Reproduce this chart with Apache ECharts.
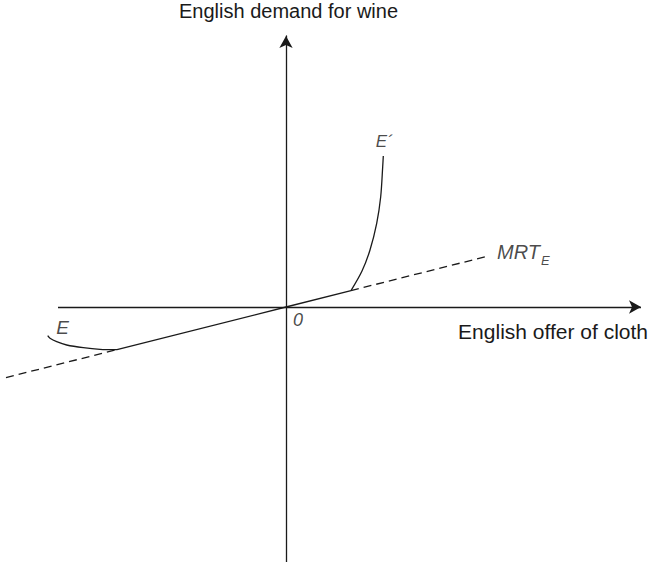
<!DOCTYPE html>
<html>
<head>
<meta charset="utf-8">
<script src="https://cdn.jsdelivr.net/npm/echarts@6/dist/echarts.min.js"></script>
<style>
  html, body { margin: 0; padding: 0; background: #ffffff; }
  #chart { width: 649px; height: 562px; }
</style>
</head>
<body>
<div id="chart"></div>
<script>
// MRT_E ray through the origin: dashed outer stretches, solid middle stretch
const mrtDashLeft = [[-28.0, -7.06], [-16.9, -4.26]];
const mrtSolid = [[-16.9, -4.26], [0, 0], [6.5, 1.64]];
const mrtDashRight = [[6.5, 1.64], [20.2, 5.09]];

// Offer curve branch E' (first quadrant) and branch E (third quadrant)
const curveEPrime = [[6.5, 1.64], [7.6, 3.6], [8.4, 5.7], [9.07, 8.37], [9.47, 11.03], [9.67, 14.03], [9.73, 15.1]];
const curveE = [[-16.9, -4.26], [-18.6, -4.23], [-20.27, -4.07], [-21.93, -3.8], [-22.93, -3.47], [-23.6, -3.13], [-23.83, -2.87]];

// Plot extents and the drawn horizontal axis (starts right of the plot edge)
const xRange = [-28.6, 35.5];
const yRange = [-25.5, 27.1];
const xAxisSpan = [-22.8, 35.5];

// Axis titles
const xTitle = 'English offer of cloth';
const yTitle = 'English demand for wine';

const FONT = '"Liberation Sans", Arial, Helvetica, sans-serif';
const INK = '#1a1a1a';

const chart = echarts.init(document.getElementById('chart'), null, { renderer: 'svg' });

const lineBase = {
  type: 'line',
  symbol: 'none',
  clip: false,
  silent: true,
  animation: false,
  lineStyle: { color: INK, width: 1.3 }
};

// Anchor points for the point labels, taken from the ends of the drawn curves
const last = (arr) => arr[arr.length - 1];
const labelPoints = [
  { value: last(curveE), label: { formatter: 'E', fontSize: 19, offset: [15, -8] } },
  { value: last(curveEPrime), label: { formatter: 'E\u00B4', fontSize: 17, offset: [1, -15] } },
  { value: last(mrtDashRight), label: { formatter: '{a|MRT}{b|E}', position: 'right', distance: 9, offset: [0, -4] } },
  { value: mrtSolid[1], label: { formatter: '0', fontSize: 18, offset: [12, 13] } }
];

chart.setOption({
  animation: false,
  backgroundColor: '#ffffff',
  grid: { left: 0, right: 8, top: 36, bottom: 0, containLabel: false },
  xAxis: {
    type: 'value',
    min: xRange[0], max: xRange[1],
    axisLine: { show: false },
    axisTick: { show: false },
    axisLabel: { show: false },
    splitLine: { show: false }
  },
  yAxis: {
    type: 'value',
    min: yRange[0], max: yRange[1],
    axisLine: {
      show: true, onZero: true,
      symbol: ['none', 'arrow'], symbolSize: [10, 12],
      lineStyle: { color: INK, width: 1.3 }
    },
    axisTick: { show: false },
    axisLabel: { show: false },
    splitLine: { show: false }
  },
  graphic: [
    {
      type: 'text', left: 179, top: 1,
      style: { text: yTitle, font: '20px ' + FONT, fill: INK }
    },
    {
      type: 'text', right: 1, top: 321,
      style: { text: xTitle, font: '21px ' + FONT, fill: INK }
    }
  ],
  series: [
    Object.assign({}, lineBase, {
      data: mrtDashLeft,
      lineStyle: { color: INK, width: 1.3, type: [8, 5] },
      // horizontal axis with its arrow head
      markLine: {
        silent: true,
        animation: false,
        symbol: ['none', 'arrow'],
        symbolSize: [10, 12],
        label: { show: false },
        lineStyle: { color: INK, width: 1.3, type: 'solid' },
        data: [[{ coord: [xAxisSpan[0], 0] }, { coord: [xAxisSpan[1], 0] }]]
      }
    }),
    Object.assign({}, lineBase, { data: mrtSolid }),
    Object.assign({}, lineBase, { data: mrtDashRight, lineStyle: { color: INK, width: 1.3, type: [8, 5] } }),
    Object.assign({}, lineBase, { data: curveEPrime, smooth: 0.3 }),
    Object.assign({}, lineBase, { data: curveE, smooth: 0.3 }),
    {
      type: 'scatter',
      symbolSize: 0,
      silent: true,
      clip: false,
      animation: false,
      data: labelPoints,
      label: {
        show: true,
        position: 'inside',
        color: INK,
        fontFamily: FONT,
        fontStyle: 'italic',
        fontSize: 17,
        rich: {
          a: { fontFamily: FONT, fontStyle: 'italic', fontSize: 20, color: INK },
          b: { fontFamily: FONT, fontStyle: 'italic', fontSize: 13, color: INK, padding: [16, 0, 0, 1] }
        }
      }
    }
  ]
});
</script>
</body>
</html>
